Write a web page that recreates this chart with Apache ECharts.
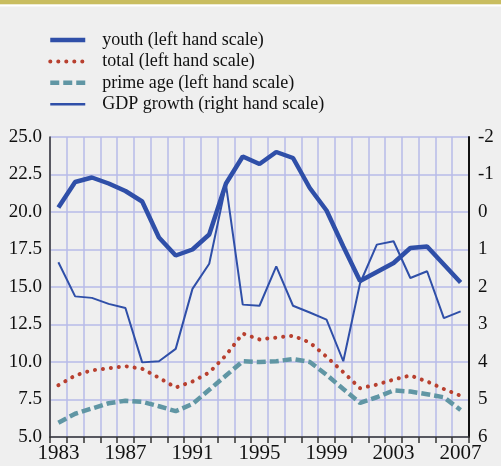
<!DOCTYPE html>
<html>
<head>
<meta charset="utf-8">
<script src="https://cdn.jsdelivr.net/npm/echarts@6/dist/echarts.min.js"></script>
<style>
  html, body { margin: 0; padding: 0; background: #efefef; }
  #chart { width: 501px; height: 466px; }
</style>
</head>
<body>
<div id="chart"></div>
<script>
// years on the category axis
const years = ['1983', '1984', '1985', '1986', '1987', '1988', '1989', '1990', '1991', '1992', '1993', '1994', '1995',
  '1996', '1997', '1998', '1999', '2000', '2001', '2002', '2003', '2004', '2005', '2006', '2007'];

// unemployment rates, left hand scale
const youth = [20.3, 22.0, 22.3, 21.9, 21.4, 20.7, 18.3, 17.1, 17.5, 18.5, 21.9, 23.7, 23.2,
  24.0, 23.6, 21.6, 20.1, 17.7, 15.4, 16.0, 16.6, 17.6, 17.7, 16.5, 15.3];
const total = [8.45, 9.1, 9.45, 9.58, 9.72, 9.55, 8.95, 8.3, 8.7, 9.3, 10.45, 11.9, 11.5,
  11.63, 11.75, 11.3, 10.35, 9.32, 8.25, 8.49, 8.83, 9.1, 8.7, 8.2, 7.75];
const primeAge = [5.95, 6.55, 6.9, 7.25, 7.42, 7.35, 7.05, 6.72, 7.2, 8.15, 9.1, 10.05, 10.0,
  10.05, 10.2, 10.0, 9.15, 8.2, 7.27, 7.65, 8.1, 8.03, 7.85, 7.65, 6.8];

// GDP growth, right hand scale (inverted)
const gdp = [1.34, 2.25, 2.29, 2.45, 2.56, 4.01, 3.98, 3.65, 2.05, 1.38, -0.73, 2.47, 2.5,
  1.45, 2.5, 2.68, 2.87, 3.98, 1.9, 0.87, 0.78, 1.76, 1.58, 2.83, 2.65];

const blue = '#2f4fa8';
const red = '#b8402f';
const teal = '#6096a4';
const gridColor = '#b7bbe8';
const font = 'Liberation Serif';

// line styles, shared by series and legend
const youthLine = {color: blue, width: 4.5};
const totalLine = {color: red, width: 4, type: [0.1, 7.9], cap: 'round'};
const primeLine = {color: teal, width: 4.5, type: [9, 4]};
const gdpLine = {color: blue, width: 2.5};

let myChart = echarts.init(document.getElementById('chart'));

let option = {
  backgroundColor: '#efefef',
  animation: false,
  graphic: [
    { type: 'rect', shape: {x: 0, y: 0, width: 501, height: 4.5}, style: {fill: '#c9bd60'} },
    { type: 'rect', shape: {x: 0, y: 4.5, width: 501, height: 2}, style: {fill: '#ffffff'} }
  ],
  legend: {
    orient: 'vertical',
    left: 48,
    top: 31,
    padding: 0,
    itemWidth: 35,
    itemHeight: 14,
    itemGap: 3.4,
    itemStyle: {opacity: 0},
    textStyle: {fontFamily: font, fontSize: 18, lineHeight: 18, color: '#111', padding: [0, 0, 0, 12]},
    data: [
      {name: 'youth (left hand scale)', lineStyle: youthLine},
      {name: 'total (left hand scale)', lineStyle: totalLine},
      {name: 'prime age (left hand scale)', lineStyle: primeLine},
      {name: 'GDP growth (right hand scale)', lineStyle: gdpLine}
    ]
  },
  grid: {left: 50, right: 32, top: 137, bottom: 29, containLabel: false},
  xAxis: {
    type: 'category',
    data: years,
    boundaryGap: true,
    axisLine: {onZero: false, lineStyle: {color: '#333', width: 1.5}},
    axisTick: {show: true, interval: 0, length: 6, lineStyle: {color: '#333', width: 1.5}},
    axisLabel: {interval: 3, fontFamily: font, fontSize: 21, color: '#111', margin: 6},
    splitLine: {show: true, interval: 0, lineStyle: {color: gridColor, width: 1.5}}
  },
  yAxis: [
    {
      type: 'value',
      min: 5,
      max: 25,
      interval: 2.5,
      axisLine: {show: true, lineStyle: {color: '#333', width: 1.5}},
      axisTick: {show: false},
      axisLabel: {fontFamily: font, fontSize: 19, color: '#111', margin: 8,
        formatter: v => v.toFixed(1)},
      splitLine: {show: true, lineStyle: {color: gridColor, width: 1.5}}
    },
    {
      type: 'value',
      min: -2,
      max: 6,
      interval: 1,
      inverse: true,
      axisLine: {show: true, lineStyle: {color: '#111', width: 2}},
      axisTick: {show: false},
      axisLabel: {fontFamily: font, fontSize: 19, color: '#111', margin: 9},
      splitLine: {show: false}
    }
  ],
  series: [
    {
      name: 'youth (left hand scale)',
      type: 'line',
      yAxisIndex: 0,
      data: youth,
      symbol: 'none',
      z: 4,
      lineStyle: youthLine,
      itemStyle: {color: blue}
    },
    {
      name: 'total (left hand scale)',
      type: 'line',
      yAxisIndex: 0,
      data: total,
      symbol: 'none',
      z: 3,
      lineStyle: totalLine,
      itemStyle: {color: red}
    },
    {
      name: 'prime age (left hand scale)',
      type: 'line',
      yAxisIndex: 0,
      data: primeAge,
      symbol: 'none',
      z: 3,
      lineStyle: primeLine,
      itemStyle: {color: teal}
    },
    {
      name: 'GDP growth (right hand scale)',
      type: 'line',
      yAxisIndex: 1,
      data: gdp,
      symbol: 'none',
      z: 5,
      lineStyle: {color: blue, width: 2},
      itemStyle: {color: blue}
    }
  ]
};

myChart.setOption(option);
</script>
</body>
</html>
